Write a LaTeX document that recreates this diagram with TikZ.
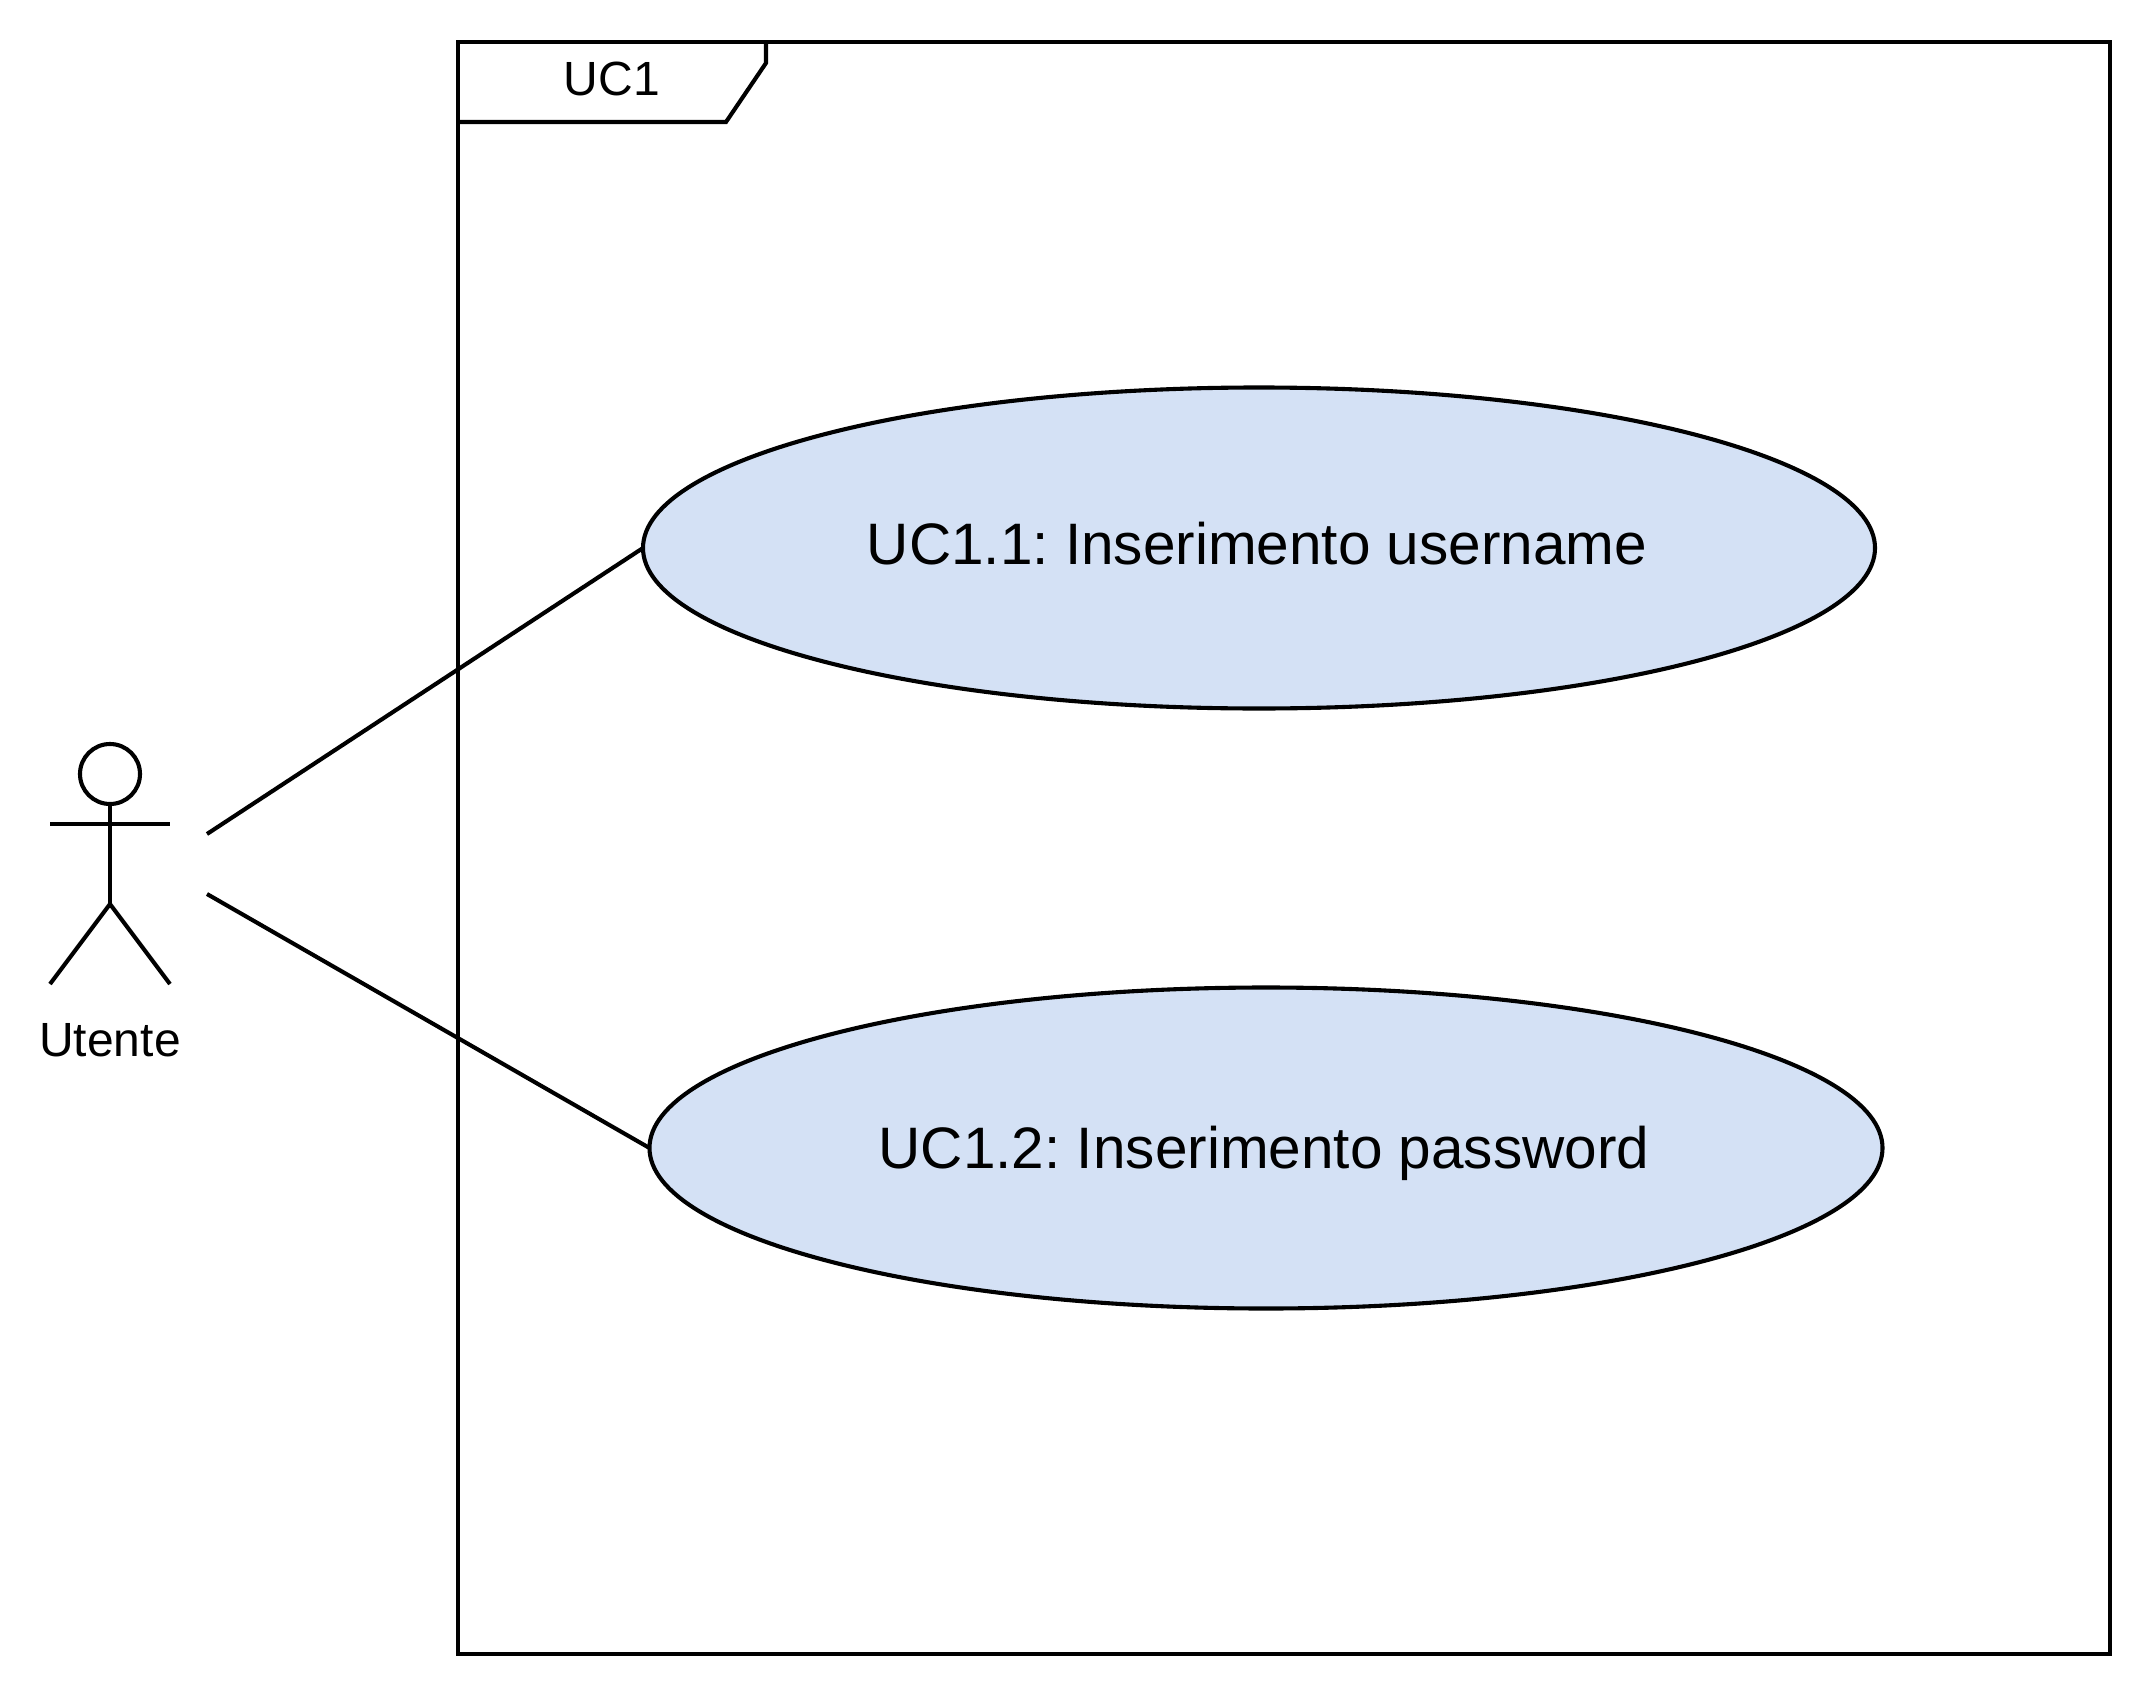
\documentclass[tikz,border=0pt]{standalone}
\usepackage{fontspec}
\setmainfont{Liberation Sans}
\usetikzlibrary{shapes.geometric}
\definecolor{ucfill}{HTML}{D4E1F5}
\frenchspacing
\tikzset{
  x=1pt,y=-1pt,
  umlline/.style={draw=black,line width=4.1pt,line join=miter},
  usecase/.style={ellipse,umlline,fill=ucfill,inner sep=0pt,outer sep=0pt},
  caselabel/.style={inner sep=0pt,font=\frenchspacing\fontsize{58.5}{66}\selectfont,text=black},
  smalltext/.style={inner sep=0pt,font=\fontsize{48}{54}\selectfont,text=black}
}
\begin{document}
\begin{tikzpicture}
\useasboundingbox (0,0) rectangle (2152,1696);
\fill[white] (0,0) rectangle (2152,1696);
% frame
\node[umlline,rectangle,inner sep=0pt,outer sep=0pt,minimum width=1652pt,minimum height=1612pt,anchor=north west] (frame) at (458,42) {};
\draw[umlline] (458,122) -- (726,122) -- (766,63) -- (766,42);
\node[smalltext] (title) at (612,79) {UC1};
% use cases
\node[usecase,minimum width=1232pt,minimum height=321pt] (uc1) at (1259,548) {};
\node[caselabel] (uc1t) at (1257,544) {UC1.1: Inserimento username};
\node[usecase,minimum width=1233pt,minimum height=321pt] (uc2) at (1266,1148) {};
\node[caselabel] (uc2t) at (1264,1153) {UC1.2: Inserimento password};
% actor
\node[circle,umlline,inner sep=0pt,outer sep=0pt,minimum size=60pt] (head) at (110,774) {};
\coordinate (armL) at (50,824);
\coordinate (armR) at (170,824);
\coordinate (hip) at (110,904);
\coordinate (legL) at (50,984);
\coordinate (legR) at (170,984);
\draw[umlline] (head.south) -- (hip);
\draw[umlline] (armL) -- (armR);
\draw[umlline] (legL) -- (hip) -- (legR);
\node[smalltext] (actor) at (110,1040) {Utente};
% connectors
\coordinate (c1) at (207,834);
\coordinate (c2) at (207,894);
\draw[umlline] (c1) -- (uc1.west);
\draw[umlline] (c2) -- (uc2.west);
\end{tikzpicture}
\end{document}
